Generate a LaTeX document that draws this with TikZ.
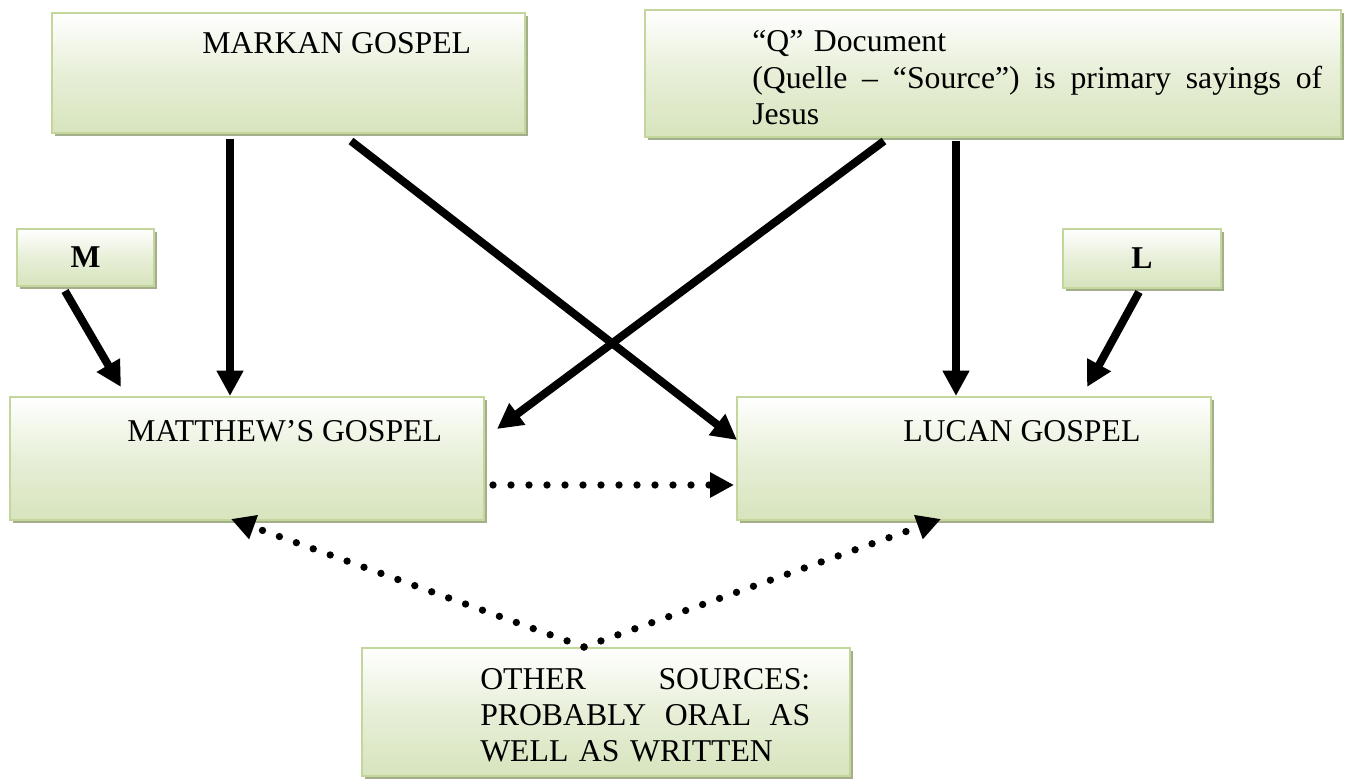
\documentclass[tikz,border=0pt]{standalone}
\usepackage{fontspec}
\setmainfont{Liberation Serif}
\usetikzlibrary{arrows.meta,calc,fit,shadows}
\definecolor{boxgreen}{HTML}{D7E4BD}
\definecolor{boxline}{HTML}{C3D69B}
\definecolor{boxshadow}{HTML}{A3AF8A}
\newcommand\spreadline[2]{\leavevmode\hbox to #1{\spaceskip=0.25em plus 1fil\relax #2}}
\begin{document}
\begin{tikzpicture}[x=0.75pt,y=-0.75pt,
  srcbox/.style={inner sep=0pt,draw=boxline,line width=1.5pt,top color=white,bottom color=boxgreen,middle color=boxgreen!60,drop shadow={shadow xshift=2.2pt,shadow yshift=-2.2pt,fill=boxshadow,opacity=1}},
  txt/.style={anchor=base west,inner sep=0pt,font=\fontsize{23.8}{27.2}\selectfont},
  bold/.style={font=\fontsize{23.8}{27.2}\selectfont\bfseries},
  solidarr/.style={line width=6pt,-{Triangle[length=19pt,width=19pt]}},
  dotarr/.style={line width=5.5pt,line cap=round,dash pattern=on 0pt off 13.5pt,-{Triangle[length=18pt,width=18pt]}}]
\useasboundingbox (0,0) rectangle (1349,780);
% boxes
\node[srcbox,fit={(52,13) (525,133)}] (mark) {};
\node[srcbox,fit={(645,10) (1341,137)}] (quelle) {};
\node[srcbox,fit={(17,229) (154,286)},label={[bold,anchor=center]center:M}] (msrc) {};
\node[srcbox,fit={(1063,229) (1221,288)},label={[bold,anchor=center]center:L}] (lsrc) {};
\node[srcbox,fit={(10,397) (484,520)}] (matt) {};
\node[srcbox,fit={(737,397) (1211,520)}] (lucan) {};
\node[srcbox,fit={(362,648) (850,776)}] (other) {};
% texts
\node[txt] (marktxt) at (202,54) {MARKAN GOSPEL};
\node[txt,text width=427.5pt] (quelletxt) at (752,52) {“Q” Document\\
  \spreadline{427.5pt}{(Quelle – “Source”) is primary sayings of}\\
  Jesus};
\node[txt] (matttxt) at (127,441) {MATTHEW’S GOSPEL};
\node[txt] (lucantxt) at (903,441) {LUCAN GOSPEL};
\node[txt,text width=247.5pt] (othertxt) at (480,689) {\spreadline{247.5pt}{OTHER SOURCES:}\\
  \spreadline{247.5pt}{PROBABLY ORAL AS}\\
  WELL AS WRITTEN};
% connectors
\draw[solidarr] ($(mark.south west)+(179,5)$) -- ($(matt.north west)+(221,0)$);
\draw[solidarr] ($(mark.south west)+(300,7)$) -- ($(lucan.north west)+(1,44)$);
\draw[solidarr] ($(quelle.south west)+(240,3)$) -- ($(matt.north east)+(12,33)$);
\draw[solidarr] ($(quelle.south west)+(312,3)$) -- ($(lucan.north west)+(220,0)$);
\draw[solidarr] ($(msrc.south west)+(49,4)$) -- ($(matt.north west)+(112,-9)$);
\draw[solidarr] ($(lsrc.south west)+(77,3)$) -- ($(lucan.north west)+(351,-9)$);
\draw[dotarr] ($(matt.south east)+(8,-36)$) -- ($(lucan.south west)+(-2,-36)$);
\draw[dotarr] ($(other.north west)+(223,0)$) -- ($(matt.south west)+(222,-2)$);
\draw[dotarr] ($(other.north west)+(223,0)$) -- ($(lucan.south west)+(205,-2)$);
\end{tikzpicture}
\end{document}
